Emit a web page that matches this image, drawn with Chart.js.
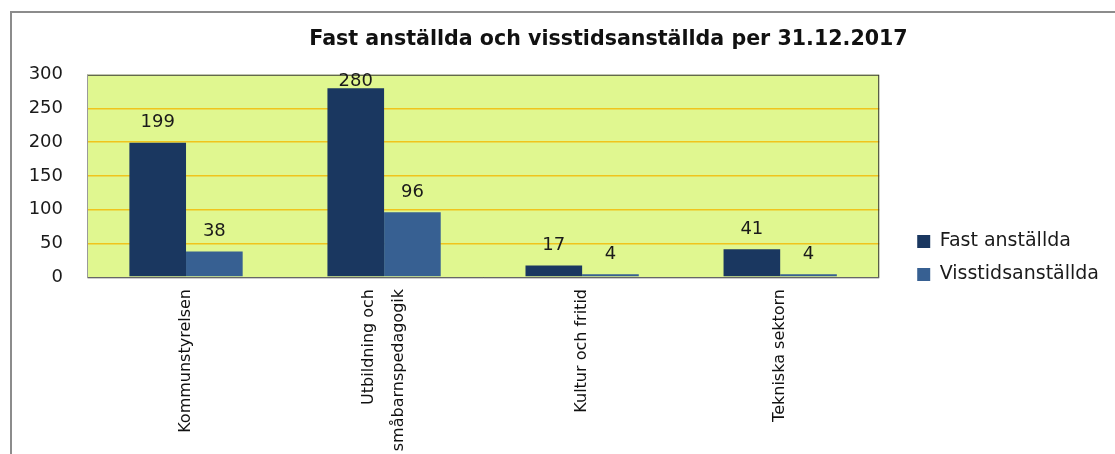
<!DOCTYPE html>
<html>
<head>
<meta charset="utf-8">
<title>Fast anställda och visstidsanställda</title>
<script src="https://cdn.jsdelivr.net/npm/chart.js@4.4.1/dist/chart.umd.min.js"></script>
<style>
    body { margin: 0; background: #fff; overflow: hidden; }
    canvas { display: block; }
</style>
</head>
<body>
<canvas id="chart" width="1115" height="454"></canvas>
<script>
let categories = ['Kommunstyrelsen', ['Utbildning och', 'småbarnspedagogik'], 'Kultur och fritid', 'Tekniska sektorn']
let fastValues = [199, 280, 17, 41]
let visstidValues = [38, 96, 4, 4]
let seriesNames = ['Fast anställda', 'Visstidsanställda']
let yTicks = [0, 50, 100, 150, 200, 250, 300]

let fontFamily = '"DejaVu Sans", sans-serif'

// outer frame, plot background + border, values over the bars
let plotDecor = {
    id: 'plotDecor',
    afterLayout(chart) {
        // nudge title and legend to where the original has them
        let t = chart.titleBlock
        t.left += 66
        t.right += 66
        let l = chart.legend
        l.left += 24
        l.right += 24
        l.top += 22
        l.bottom += 22
    },
    beforeDraw(chart) {
        let a = chart.chartArea
        let ctx = chart.ctx

        // two-line category label: center the block on its tick
        let x = chart.scales.x
        x.getLabelItems(a).forEach(item => {
            if (Array.isArray(item.label)) {
                let lh = item.font.lineHeight
                item.options.translation[0] -= (item.label.length - 1) * lh / 2
            }
        })

        ctx.save()
        ctx.strokeStyle = '#8c8c8c'
        ctx.lineWidth = 2
        ctx.beginPath()
        ctx.moveTo(11, chart.height)
        ctx.lineTo(11, 12)
        ctx.lineTo(chart.width, 12)
        ctx.stroke()

        ctx.fillStyle = '#e0f790'
        ctx.fillRect(a.left, a.top, a.right - a.left, a.bottom - a.top)
        ctx.restore()
    },
    afterDatasetsDraw(chart) {
        let a = chart.chartArea
        let ctx = chart.ctx
        ctx.save()
        ctx.strokeStyle = '#333'
        ctx.lineWidth = 1
        ctx.strokeRect(a.left + 0.5, a.top + 0.5, a.right - a.left - 1, a.bottom - a.top)
        ctx.strokeStyle = '#9a9a9a'
        ctx.beginPath()
        ctx.moveTo(a.left + 0.5, a.top)
        ctx.lineTo(a.left + 0.5, a.bottom + 1)
        ctx.lineTo(a.right, a.bottom + 1)
        ctx.stroke()

        ctx.fillStyle = '#1a1a1a'
        ctx.font = '18px ' + fontFamily
        ctx.textAlign = 'center'
        ctx.textBaseline = 'bottom'
        chart.data.datasets.forEach((ds, i) => {
            chart.getDatasetMeta(i).data.forEach((bar, j) => {
                let y = Math.max(bar.y - 11, a.top + 16)
                ctx.fillText(ds.data[j], bar.x, y)
            })
        })
        ctx.restore()
    }
}

new Chart(document.getElementById('chart'), {
    type: 'bar',
    data: {
        labels: categories,
        datasets: [
            { label: seriesNames[0], data: fastValues, backgroundColor: '#1a3760' },
            { label: seriesNames[1], data: visstidValues, backgroundColor: '#376092' }
        ]
    },
    options: {
        responsive: false,
        animation: false,
        devicePixelRatio: 1,
        layout: { padding: { top: 18, right: 30, bottom: 0, left: 0 } },
        datasets: { bar: { categoryPercentage: 0.572, barPercentage: 1 } },
        plugins: {
            title: {
                display: true,
                text: 'Fast anställda och visstidsanställda per 31.12.2017',
                color: '#111',
                font: { family: fontFamily, size: 20.6, weight: 'bold' },
                padding: { top: 9, bottom: 23 }
            },
            legend: {
                position: 'right',
                labels: {
                    color: '#1a1a1a',
                    font: { family: fontFamily, size: 19 },
                    boxWidth: 13,
                    boxHeight: 13,
                    padding: 14
                }
            },
            tooltip: { enabled: false }
        },
        scales: {
            x: {
                grid: { display: false, drawTicks: false },
                border: { display: false },
                ticks: {
                    color: '#111',
                    font: { family: fontFamily, size: 16, lineHeight: 1.9 },
                    maxRotation: 90,
                    minRotation: 90,
                    autoSkip: false,
                    padding: 12
                },
                afterFit(scale) { scale.height = 177 }
            },
            y: {
                min: 0,
                max: 300,
                afterBuildTicks(scale) { scale.ticks = yTicks.map(v => ({ value: v })) },
                grid: {
                    // no gold line on the frame edges
                    color: ctx => (ctx.tick && (ctx.tick.value == 0 || ctx.tick.value == 300)) ? 'rgba(0,0,0,0)' : '#f0c41c',
                    lineWidth: 1.5,
                    drawTicks: false
                },
                border: { display: false },
                ticks: {
                    color: '#1a1a1a',
                    font: { family: fontFamily, size: 18 },
                    padding: 24
                },
                afterFit(scale) { scale.width = 87 }
            }
        }
    },
    plugins: [plotDecor]
})
</script>
</body>
</html>
